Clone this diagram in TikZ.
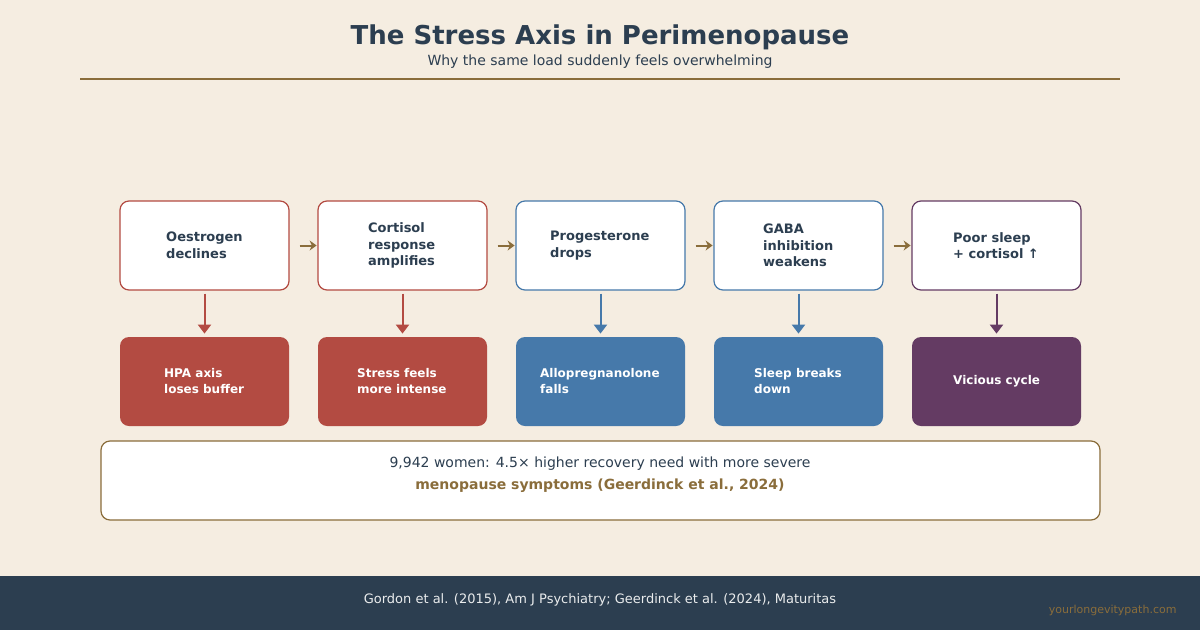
\documentclass[tikz,border=0pt]{standalone}
\usepackage{fontspec}
\setmainfont{DejaVu Sans}
\usetikzlibrary{positioning,arrows.meta}
\definecolor{bg}{HTML}{F5EDE1}
\definecolor{ink}{HTML}{2C3E50}
\definecolor{rust}{HTML}{B34B42}
\definecolor{steel}{HTML}{4679AA}
\definecolor{plum}{HTML}{643B63}
\definecolor{bronze}{HTML}{8A6D3B}
\tikzset{
	topbox/.style={draw=#1, fill=white, rounded corners=9pt, line width=1.2pt, minimum width=169pt, minimum height=89pt},
	botbox/.style={fill=#1, rounded corners=9pt, minimum width=169pt, minimum height=89pt},
	lbl/.style={font=\fontsize{13}{16.5}\selectfont\bfseries, align=left, text=#1, inner sep=0pt},
}
\begin{document}
\begin{tikzpicture}[x=1pt, y=-1pt]
	\fill[bg] (0,0) rectangle (1200,630);
	\useasboundingbox (0,0) rectangle (1200,630);
	\node[text=ink, font=\fontsize{26}{30}\selectfont\bfseries] (title) at (600,37) {The Stress Axis in Perimenopause};
	\node[text=ink, font=\fontsize{14}{16}\selectfont] (sub) at (600,62) {Why the same load suddenly feels overwhelming};
	\draw[bronze, line width=1.2pt] (80,79) -- (1120,79);
	\foreach \i/\c/\top/\bot/\tx/\bx in {
		0/rust/{Oestrogen\\declines}/{HPA axis\\loses buffer}/166/164,
		1/rust/{Cortisol\\response\\amplifies}/{Stress feels\\more intense}/368/357,
		2/steel/{Progesterone\\drops}/{Allopregnanolone\\falls}/550/540,
		3/steel/{GABA\\inhibition\\weakens}/{Sleep breaks\\down}/763/754,
		4/plum/{Poor sleep\\+ cortisol ↑}/{Vicious cycle}/953/953} {
		\node[topbox=\c] (t\i) at (204.5+198*\i,245.5) {};
		\node[botbox=\c] (b\i) at (204.5+198*\i,381.5) {};
		\node[lbl=ink, anchor=west] at (\tx,245.5) {\top};
		\node[lbl=white, anchor=west, font=\fontsize{12}{16}\selectfont\bfseries] at (\bx,381.5) {\bot};
		\draw[\c, line width=2pt, -{Triangle[length=9pt,width=13pt]}] (t\i.south) ++(0,3) -- ++(0,40);
	}
	\foreach \i in {0,...,3}
		\draw[bronze, line width=2pt, -{Stealth[length=7pt,width=10pt]}] (t\i.east) ++(10,0) -- ++(17,0);
	\node[draw=bronze, fill=white, rounded corners=9pt, line width=1.2pt, minimum width=999pt, minimum height=79pt] (note) at (600.5,480.5) {};
	\node[text=ink, font=\fontsize{14}{16}\selectfont] (n1) at (600,464) {9,942 women: 4.5× higher recovery need with more severe};
	\node[text=bronze, font=\fontsize{14}{16}\selectfont\bfseries] (n2) at (600,486) {menopause symptoms (Geerdinck et al., 2024)};
	\fill[ink] (0,576) rectangle (1200,630);
	\node[text=white!90!ink, font=\fontsize{13}{15}\selectfont] (src) at (600,600) {Gordon et al. (2015), Am J Psychiatry; Geerdinck et al. (2024), Maturitas};
	\node[text=bronze, font=\fontsize{11}{13}\selectfont, anchor=east] (web) at (1180,610) {yourlongevitypath.com};
\end{tikzpicture}
\end{document}
